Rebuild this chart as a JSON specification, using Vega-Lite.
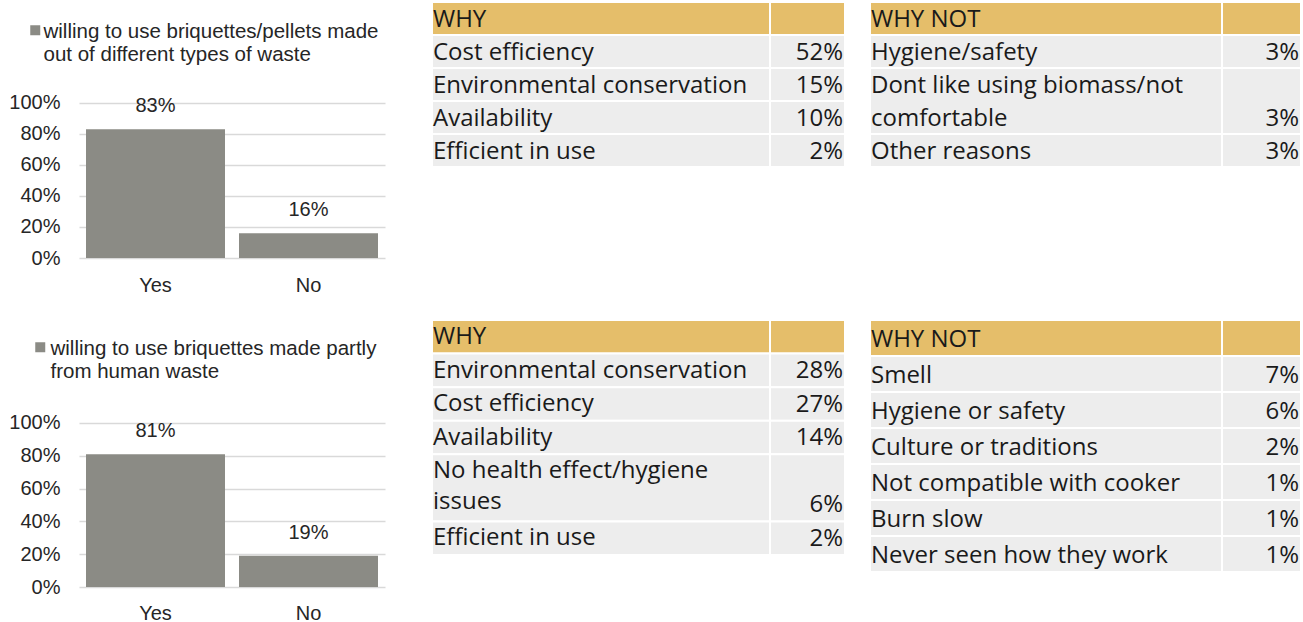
{
  "$schema": "https://vega.github.io/schema/vega-lite/v6.json",
  "background": "white",
  "padding": {"left": 8, "top": 1, "right": 0, "bottom": 0},
  "config": {
    "view": {"stroke": null},
    "font": "Liberation Sans",
    "axis": {"labelColor": "#262626", "labelFontSize": 20, "labelFont": "Liberation Sans"},
    "legend": {"labelFont": "Liberation Sans", "labelColor": "#262626"}
  },
  "resolve": {"scale": {"color": "independent"}, "legend": {"color": "independent"}},
  "datasets": {
    "bars": [
      {"chart": "a", "answer": "Yes", "share": 0.83, "series": "willing to use briquettes/pellets made\nout of different types of waste"},
      {"chart": "a", "answer": "No", "share": 0.16, "series": "willing to use briquettes/pellets made\nout of different types of waste"},
      {"chart": "b", "answer": "Yes", "share": 0.81, "series": "willing to use briquettes made partly\nfrom human waste"},
      {"chart": "b", "answer": "No", "share": 0.19, "series": "willing to use briquettes made partly\nfrom human waste"}
    ],
    "reasons": [
      {"table": "top-why", "order": 0, "kind": "header", "label": "WHY", "share": null},
      {"table": "top-why", "order": 1, "kind": "row", "label": "Cost efficiency", "share": 0.52},
      {"table": "top-why", "order": 2, "kind": "row", "label": "Environmental conservation", "share": 0.15},
      {"table": "top-why", "order": 3, "kind": "row", "label": "Availability", "share": 0.10},
      {"table": "top-why", "order": 4, "kind": "row", "label": "Efficient in use", "share": 0.02},
      {"table": "top-whynot", "order": 0, "kind": "header", "label": "WHY NOT", "share": null},
      {"table": "top-whynot", "order": 1, "kind": "row", "label": "Hygiene/safety", "share": 0.03},
      {"table": "top-whynot", "order": 2, "kind": "row", "label": ["Dont like using biomass/not", "comfortable"], "share": 0.03},
      {"table": "top-whynot", "order": 3, "kind": "row", "label": "Other reasons", "share": 0.03},
      {"table": "bottom-why", "order": 0, "kind": "header", "label": "WHY", "share": null},
      {"table": "bottom-why", "order": 1, "kind": "row", "label": "Environmental conservation", "share": 0.28},
      {"table": "bottom-why", "order": 2, "kind": "row", "label": "Cost efficiency", "share": 0.27},
      {"table": "bottom-why", "order": 3, "kind": "row", "label": "Availability", "share": 0.14},
      {"table": "bottom-why", "order": 4, "kind": "row", "label": ["No health effect/hygiene", "issues"], "share": 0.06},
      {"table": "bottom-why", "order": 5, "kind": "row", "label": "Efficient in use", "share": 0.02},
      {"table": "bottom-whynot", "order": 0, "kind": "header", "label": "WHY NOT", "share": null},
      {"table": "bottom-whynot", "order": 1, "kind": "row", "label": "Smell", "share": 0.07},
      {"table": "bottom-whynot", "order": 2, "kind": "row", "label": "Hygiene or safety", "share": 0.06},
      {"table": "bottom-whynot", "order": 3, "kind": "row", "label": "Culture or traditions", "share": 0.02},
      {"table": "bottom-whynot", "order": 4, "kind": "row", "label": "Not compatible with cooker", "share": 0.01},
      {"table": "bottom-whynot", "order": 5, "kind": "row", "label": "Burn slow", "share": 0.01},
      {"table": "bottom-whynot", "order": 6, "kind": "row", "label": "Never seen how they work", "share": 0.01}
    ]
  },
  "columns": 3,
  "align": "each",
  "bounds": "flush",
  "spacing": {"row": 62, "column": 25},
  "concat": [
    {
      "width": 306, "height": 256,
      "data": {"name": "bars"},
      "transform": [{"filter": "datum.chart == 'a'"}],
      "encoding": {
        "x": {"field": "answer", "type": "nominal", "sort": ["Yes", "No"],
              "scale": {"paddingInner": 0.0915, "paddingOuter": 0.0458},
              "axis": {"title": null, "labelAngle": 0, "ticks": false, "domain": false, "grid": false, "labelPadding": 17}},
        "y": {"field": "share", "type": "quantitative",
              "scale": {"domain": [0, 1.6516], "nice": false},
              "axis": {"title": null, "values": [0, 0.2, 0.4, 0.6, 0.8, 1], "format": ".0%", "ticks": false, "domain": false,
                       "labelPadding": 19, "grid": true, "gridColor": "#d9d9d9", "gridWidth": 1.5}}
      },
      "layer": [
        {"mark": {"type": "bar"},
         "encoding": {"color": {"field": "series", "type": "nominal", "scale": {"range": ["#8b8b85"]},
           "legend": {"title": null, "orient": "none", "legendX": -54, "legendY": 18, "padding": 0,
                      "symbolType": "square", "symbolSize": 100, "symbolStrokeWidth": 0, "labelOffset": -2,
                      "labelFontSize": 20.5, "labelLimit": 0, "labelBaseline": "top",
                      "labelExpr": "split(datum.label, '\\n')",
                      "encode": {"labels": {"update": {"lineHeight": {"value": 23}, "dy": {"value": -8}}}}}}}},
        {"mark": {"type": "text", "baseline": "bottom", "dy": -13, "fontSize": 20, "color": "#262626"},
         "encoding": {"text": {"field": "share", "type": "quantitative", "format": ".0%"}}}
      ]
    },
    {
      "width": 435, "height": 165,
      "data": {"name": "reasons"},
      "transform": [
        {"filter": "datum.table == 'top-why'"},
        {"calculate": "isArray(datum.label) ? length(datum.label) : 1", "as": "lines"},
        {"stack": "lines", "groupby": ["table"], "sort": [{"field": "order"}], "as": ["y0", "y1"]}
      ],
      "layer": [
        {"mark": {"type": "rect", "stroke": "white", "strokeWidth": 2},
         "encoding": {
           "x": {"datum": 0, "type": "quantitative", "scale": {"domain": [-22, 413], "nice": false, "zero": false}, "axis": null},
           "x2": {"datum": 338},
           "y": {"field": "y0", "type": "quantitative", "scale": {"domain": [0, 5], "reverse": true, "nice": false}, "axis": null},
           "y2": {"field": "y1"},
           "fill": {"field": "kind", "type": "nominal", "scale": {"domain": ["header", "row"], "range": ["#e5be6a", "#ededed"]}, "legend": null}}},
        {"mark": {"type": "rect", "stroke": "white", "strokeWidth": 2},
         "encoding": {
           "x": {"datum": 338, "type": "quantitative"},
           "x2": {"datum": 413},
           "y": {"field": "y0", "type": "quantitative"},
           "y2": {"field": "y1"},
           "fill": {"field": "kind", "type": "nominal", "legend": null}}},
        {"mark": {"type": "text", "align": "left", "baseline": "alphabetic", "dx": 1, "dy": 25, "font": "Open Sans", "fontSize": 24, "lineHeight": 33, "color": "#1a1a1a"},
         "encoding": {
           "x": {"datum": 0, "type": "quantitative"},
           "y": {"field": "y0", "type": "quantitative"},
           "text": {"field": "label"}}},
        {"transform": [{"filter": "isValid(datum.share)"}],
         "mark": {"type": "text", "align": "right", "baseline": "alphabetic", "dx": -2, "dy": -8, "font": "Open Sans", "fontSize": 24, "color": "#1a1a1a"},
         "encoding": {
           "x": {"datum": 413, "type": "quantitative"},
           "y": {"field": "y1", "type": "quantitative"},
           "text": {"field": "share", "type": "quantitative", "format": ".0%"}}}
      ]
    },
    {
      "width": 431, "height": 165,
      "data": {"name": "reasons"},
      "transform": [
        {"filter": "datum.table == 'top-whynot'"},
        {"calculate": "isArray(datum.label) ? length(datum.label) : 1", "as": "lines"},
        {"stack": "lines", "groupby": ["table"], "sort": [{"field": "order"}], "as": ["y0", "y1"]}
      ],
      "layer": [
        {"mark": {"type": "rect", "stroke": "white", "strokeWidth": 2},
         "encoding": {
           "x": {"datum": 0, "type": "quantitative", "scale": {"domain": [0, 431], "nice": false, "zero": false}, "axis": null},
           "x2": {"datum": 352},
           "y": {"field": "y0", "type": "quantitative", "scale": {"domain": [0, 5], "reverse": true, "nice": false}, "axis": null},
           "y2": {"field": "y1"},
           "fill": {"field": "kind", "type": "nominal", "scale": {"domain": ["header", "row"], "range": ["#e5be6a", "#ededed"]}, "legend": null}}},
        {"mark": {"type": "rect", "stroke": "white", "strokeWidth": 2},
         "encoding": {
           "x": {"datum": 352, "type": "quantitative"},
           "x2": {"datum": 431},
           "y": {"field": "y0", "type": "quantitative"},
           "y2": {"field": "y1"},
           "fill": {"field": "kind", "type": "nominal", "legend": null}}},
        {"mark": {"type": "text", "align": "left", "baseline": "alphabetic", "dx": 1, "dy": 25, "font": "Open Sans", "fontSize": 24, "lineHeight": 33, "color": "#1a1a1a"},
         "encoding": {
           "x": {"datum": 0, "type": "quantitative"},
           "y": {"field": "y0", "type": "quantitative"},
           "text": {"field": "label"}}},
        {"transform": [{"filter": "isValid(datum.share)"}],
         "mark": {"type": "text", "align": "right", "baseline": "alphabetic", "dx": -2, "dy": -8, "font": "Open Sans", "fontSize": 24, "color": "#1a1a1a"},
         "encoding": {
           "x": {"datum": 431, "type": "quantitative"},
           "y": {"field": "y1", "type": "quantitative"},
           "text": {"field": "share", "type": "quantitative", "format": ".0%"}}}
      ]
    },
    {
      "width": 306, "height": 267,
      "data": {"name": "bars"},
      "transform": [{"filter": "datum.chart == 'b'"}],
      "encoding": {
        "x": {"field": "answer", "type": "nominal", "sort": ["Yes", "No"],
              "scale": {"paddingInner": 0.0915, "paddingOuter": 0.0458},
              "axis": {"title": null, "labelAngle": 0, "ticks": false, "domain": false, "grid": false, "labelPadding": 16}},
        "y": {"field": "share", "type": "quantitative",
              "scale": {"domain": [0, 1.628], "nice": false},
              "axis": {"title": null, "values": [0, 0.2, 0.4, 0.6, 0.8, 1], "format": ".0%", "ticks": false, "domain": false,
                       "labelPadding": 19, "grid": true, "gridColor": "#d9d9d9", "gridWidth": 1.5}}
      },
      "layer": [
        {"mark": {"type": "bar"},
         "encoding": {"color": {"field": "series", "type": "nominal", "scale": {"range": ["#8b8b85"]},
           "legend": {"title": null, "orient": "none", "legendX": -49, "legendY": 17, "padding": 0,
                      "symbolType": "square", "symbolSize": 100, "symbolStrokeWidth": 0, "labelOffset": 0,
                      "labelFontSize": 20.5, "labelLimit": 0, "labelBaseline": "top",
                      "labelExpr": "split(datum.label, '\\n')",
                      "encode": {"labels": {"update": {"lineHeight": {"value": 23}, "dy": {"value": -8}}}}}}}},
        {"mark": {"type": "text", "baseline": "bottom", "dy": -13, "fontSize": 20, "color": "#262626"},
         "encoding": {"text": {"field": "share", "type": "quantitative", "format": ".0%"}}}
      ]
    },
    {
      "width": 435, "height": 235,
      "data": {"name": "reasons"},
      "transform": [
        {"filter": "datum.table == 'bottom-why'"},
        {"calculate": "isArray(datum.label) ? length(datum.label) : 1", "as": "lines"},
        {"stack": "lines", "groupby": ["table"], "sort": [{"field": "order"}], "as": ["y0", "y1"]}
      ],
      "layer": [
        {"mark": {"type": "rect", "stroke": "white", "strokeWidth": 2},
         "encoding": {
           "x": {"datum": 0, "type": "quantitative", "scale": {"domain": [-22, 413], "nice": false, "zero": false}, "axis": null},
           "x2": {"datum": 338},
           "y": {"field": "y0", "type": "quantitative", "scale": {"domain": [0, 7], "reverse": true, "nice": false}, "axis": null},
           "y2": {"field": "y1"},
           "fill": {"field": "kind", "type": "nominal", "scale": {"domain": ["header", "row"], "range": ["#e5be6a", "#ededed"]}, "legend": null}}},
        {"mark": {"type": "rect", "stroke": "white", "strokeWidth": 2},
         "encoding": {
           "x": {"datum": 338, "type": "quantitative"},
           "x2": {"datum": 413},
           "y": {"field": "y0", "type": "quantitative"},
           "y2": {"field": "y1"},
           "fill": {"field": "kind", "type": "nominal", "legend": null}}},
        {"mark": {"type": "text", "align": "left", "baseline": "alphabetic", "dx": 1, "dy": 24, "font": "Open Sans", "fontSize": 24, "lineHeight": 31, "color": "#1a1a1a"},
         "encoding": {
           "x": {"datum": 0, "type": "quantitative"},
           "y": {"field": "y0", "type": "quantitative"},
           "text": {"field": "label"}}},
        {"transform": [{"filter": "isValid(datum.share)"}],
         "mark": {"type": "text", "align": "right", "baseline": "alphabetic", "dx": -2, "dy": -9, "font": "Open Sans", "fontSize": 24, "color": "#1a1a1a"},
         "encoding": {
           "x": {"datum": 413, "type": "quantitative"},
           "y": {"field": "y1", "type": "quantitative"},
           "text": {"field": "share", "type": "quantitative", "format": ".0%"}}}
      ]
    },
    {
      "width": 431, "height": 252,
      "data": {"name": "reasons"},
      "transform": [
        {"filter": "datum.table == 'bottom-whynot'"},
        {"calculate": "isArray(datum.label) ? length(datum.label) : 1", "as": "lines"},
        {"stack": "lines", "groupby": ["table"], "sort": [{"field": "order"}], "as": ["y0", "y1"]}
      ],
      "layer": [
        {"mark": {"type": "rect", "stroke": "white", "strokeWidth": 2},
         "encoding": {
           "x": {"datum": 0, "type": "quantitative", "scale": {"domain": [0, 431], "nice": false, "zero": false}, "axis": null},
           "x2": {"datum": 352},
           "y": {"field": "y0", "type": "quantitative", "scale": {"domain": [0, 7], "reverse": true, "nice": false}, "axis": null},
           "y2": {"field": "y1"},
           "fill": {"field": "kind", "type": "nominal", "scale": {"domain": ["header", "row"], "range": ["#e5be6a", "#ededed"]}, "legend": null}}},
        {"mark": {"type": "rect", "stroke": "white", "strokeWidth": 2},
         "encoding": {
           "x": {"datum": 352, "type": "quantitative"},
           "x2": {"datum": 431},
           "y": {"field": "y0", "type": "quantitative"},
           "y2": {"field": "y1"},
           "fill": {"field": "kind", "type": "nominal", "legend": null}}},
        {"mark": {"type": "text", "align": "left", "baseline": "alphabetic", "dx": 1, "dy": 27, "font": "Open Sans", "fontSize": 24, "lineHeight": 33, "color": "#1a1a1a"},
         "encoding": {
           "x": {"datum": 0, "type": "quantitative"},
           "y": {"field": "y0", "type": "quantitative"},
           "text": {"field": "label"}}},
        {"transform": [{"filter": "isValid(datum.share)"}],
         "mark": {"type": "text", "align": "right", "baseline": "alphabetic", "dx": -2, "dy": -9, "font": "Open Sans", "fontSize": 24, "color": "#1a1a1a"},
         "encoding": {
           "x": {"datum": 431, "type": "quantitative"},
           "y": {"field": "y1", "type": "quantitative"},
           "text": {"field": "share", "type": "quantitative", "format": ".0%"}}}
      ]
    }
  ]
}
